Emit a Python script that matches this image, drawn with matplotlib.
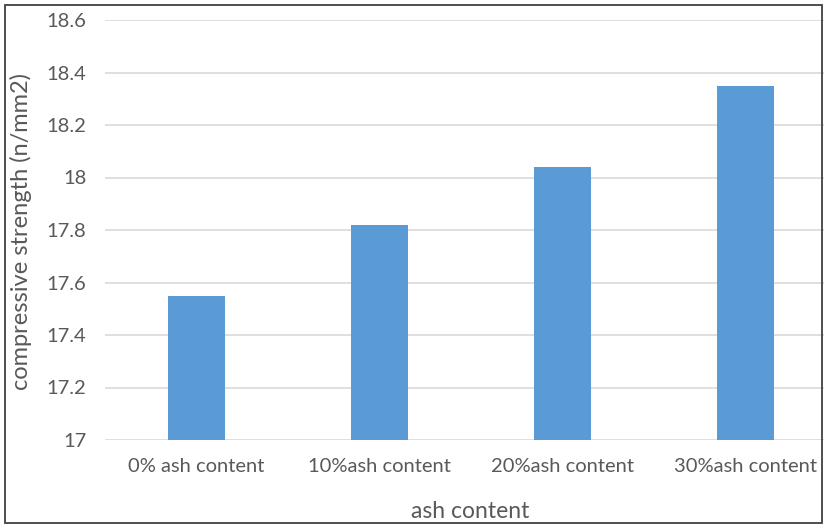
import matplotlib
matplotlib.use("Agg")
import matplotlib.pyplot as plt
from matplotlib.patches import Rectangle

# compressive strength per ash replacement level
categories = ["0% ash content", "10%ash content", "20%ash content", "30%ash content"]
strength = [17.55, 17.82, 18.04, 18.35]
y_ticks = [17, 17.2, 17.4, 17.6, 17.8, 18, 18.2, 18.4, 18.6]
y_tick_labels = ["17", "17.2", "17.4", "17.6", "17.8", "18", "18.2", "18.4", "18.6"]

text_color = "#595959"
bar_color = "#5B9BD5"
grid_color = "#D9D9D9"

plt.rcParams["font.family"] = ["Lato", "DejaVu Sans"]

fig = plt.figure(figsize=(8.24, 5.26), dpi=100)
W, H = 824, 526
# plot area in pixels: left 105, right 837 (runs past the frame), top 20, bottom 440
ax = fig.add_axes([105 / W, (H - 440) / H, 732 / W, 420 / H])

x = range(len(categories))
ax.bar(x, strength, width=0.31, color=bar_color, zorder=3)

ax.set_xlim(-0.5, 3.5)
ax.set_ylim(17, 18.6)
ax.set_yticks(y_ticks)
ax.set_yticklabels(y_tick_labels)
ax.set_xticks(list(x))
ax.set_xticklabels(categories)

ax.grid(axis="y", color=grid_color, linewidth=1.2, zorder=0)
for s in ax.spines.values():
    s.set_visible(False)
ax.tick_params(axis="both", length=0, colors=text_color, labelsize=14.5)
ax.tick_params(axis="y", pad=13.5)
ax.tick_params(axis="x", pad=13)

fig.text(470 / W, 1 - 511 / H, "ash content", ha="center", va="center",
         color=text_color, fontsize=16.5)
fig.text(21 / W, 1 - 232 / H, "compressive strength (n/mm2)", ha="center", va="center",
         rotation=90, color=text_color, fontsize=17)

# outer frame around the chart
fig.patches.append(Rectangle((5 / W, 3 / H), 817 / W, 518 / H, transform=fig.transFigure,
                             fill=False, edgecolor="#404040", linewidth=1.3))

fig.savefig("out.png", dpi=100)
